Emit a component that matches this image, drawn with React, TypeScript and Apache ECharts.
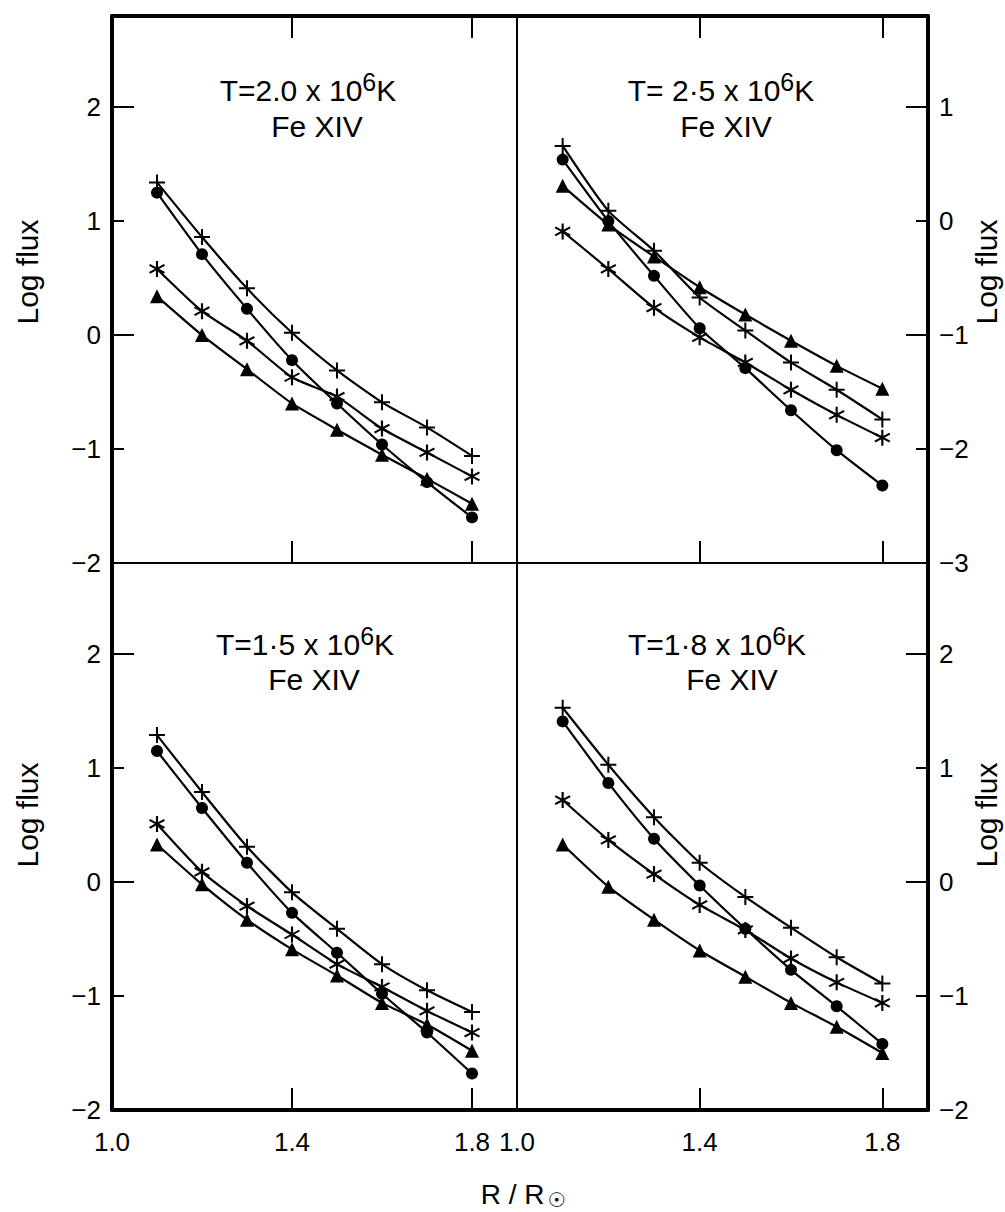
import React, { useEffect, useRef } from "react";
import * as echarts from "echarts";

// ---------- data ----------
const radius = [1.1, 1.2, 1.3, 1.4, 1.5, 1.6, 1.7, 1.8];

// T = 2.0 x 10^6 K (top left)
const t20Plus = [1.34, 0.86, 0.41, 0.02, -0.31, -0.59, -0.81, -1.06];
const t20Circle = [1.25, 0.71, 0.23, -0.22, -0.6, -0.96, -1.29, -1.6];
const t20Star = [0.58, 0.21, -0.05, -0.37, -0.54, -0.82, -1.03, -1.24];
const t20Tri = [0.34, 0.0, -0.3, -0.6, -0.83, -1.05, -1.26, -1.48];

// T = 2.5 x 10^6 K (top right)
const t25Plus = [0.66, 0.09, -0.26, -0.67, -0.96, -1.24, -1.48, -1.74];
const t25Circle = [0.54, 0.0, -0.48, -0.94, -1.29, -1.66, -2.01, -2.32];
const t25Star = [-0.09, -0.42, -0.76, -1.02, -1.24, -1.48, -1.7, -1.9];
const t25Tri = [0.31, -0.03, -0.31, -0.58, -0.82, -1.05, -1.27, -1.47];

// T = 1.5 x 10^6 K (bottom left)
const t15Plus = [1.29, 0.79, 0.31, -0.09, -0.41, -0.72, -0.95, -1.14];
const t15Circle = [1.15, 0.65, 0.17, -0.27, -0.62, -0.98, -1.32, -1.68];
const t15Star = [0.51, 0.09, -0.21, -0.46, -0.72, -0.92, -1.13, -1.32];
const t15Tri = [0.33, -0.02, -0.33, -0.59, -0.82, -1.06, -1.25, -1.48];

// T = 1.8 x 10^6 K (bottom right)
const t18Plus = [1.53, 1.03, 0.57, 0.17, -0.13, -0.4, -0.66, -0.89];
const t18Circle = [1.41, 0.87, 0.38, -0.03, -0.41, -0.77, -1.09, -1.42];
const t18Star = [0.72, 0.37, 0.07, -0.2, -0.42, -0.67, -0.88, -1.06];
const t18Tri = [0.33, -0.04, -0.33, -0.6, -0.83, -1.06, -1.27, -1.5];

// tick labels
const xLabelValues = [1.0, 1.4, 1.8];
const xTickValues = [1.4, 1.8];
const yLabelsMain = [2, 1, 0, -1, -2];
const yLabelsTopRight = [1, 0, -1, -2, -3];

// texts
const titlePrefixes = ["T=2.0 x 10", "T= 2·5 x 10", "T=1·5 x 10", "T=1·8 x 10"];
const titleExponent = "6";
const titleUnit = "K";
const ionName = "Fe XIV";
const yTitle = "Log flux";
const xTitleMain = "R / R";
const xTitleSub = "☉";

// ---------- styling ----------
const FONT = "'Liberation Sans', 'DejaVu Sans', sans-serif";
const INK = "#000";
const PLUS = "path://M7,0L9,0L9,16L7,16Z M0,7L16,7L16,9L0,9Z";
const STAR =
  "path://M7,0L9,0L9,16L7,16Z M0.57,4.87L1.57,3.13L15.43,11.13L14.43,12.87Z M1.57,12.87L0.57,11.13L14.43,3.13L15.43,4.87Z";

const markers = [
  { name: "plus", symbol: PLUS, size: 16 },
  { name: "circle", symbol: "circle", size: 12 },
  { name: "asterisk", symbol: STAR, size: 16 },
  { name: "triangle", symbol: "triangle", size: 14 },
];

const panels = [
  {
    left: 112, top: 16, width: 405, height: 547, yMin: -2, yMax: 2.8, side: "left", row: "top",
    long: [2, 0], short: [1, -1], labels: yLabelsMain,
    t1: [308, 87], t2: [317, 126], yt: [27, 272],
    data: [t20Plus, t20Circle, t20Star, t20Tri], title: titlePrefixes[0],
  },
  {
    left: 517, top: 16, width: 411, height: 547, yMin: -3, yMax: 1.8, side: "right", row: "top",
    long: [1, -1], short: [0, -2], labels: yLabelsTopRight,
    t1: [721, 87], t2: [726, 126], yt: [986, 272],
    data: [t25Plus, t25Circle, t25Star, t25Tri], title: titlePrefixes[1],
  },
  {
    left: 112, top: 563, width: 405, height: 547, yMin: -2, yMax: 2.8, side: "left", row: "bottom",
    long: [2, 0], short: [1, -1], labels: yLabelsMain,
    t1: [305, 641], t2: [314, 679], yt: [27, 815],
    data: [t15Plus, t15Circle, t15Star, t15Tri], title: titlePrefixes[2],
  },
  {
    left: 517, top: 563, width: 411, height: 547, yMin: -2, yMax: 2.8, side: "right", row: "bottom",
    long: [2, 0], short: [1, -1], labels: yLabelsMain,
    t1: [717, 641], t2: [732, 679], yt: [986, 815],
    data: [t18Plus, t18Circle, t18Star, t18Tri], title: titlePrefixes[3],
  },
];

const fmtY = (v: number) => (v < 0 ? "\u2212" + Math.abs(v) : String(Math.abs(v)));
const fmtX = (v: number) => Number(v).toFixed(1);

function buildOption() {
  const grid: any[] = [];
  const xAxis: any[] = [];
  const yAxis: any[] = [];
  const series: any[] = [];
  const graphic: any[] = [];
  const tickLine = { color: INK, width: 2 };

  panels.forEach((p, i) => {
    grid.push({
      left: p.left, top: p.top, width: p.width, height: p.height,
      containLabel: false, outerBoundsMode: "none",
    });
    const isBottom = p.row === "bottom";
    const xi = xAxis.length;
    xAxis.push({
      type: "value", gridIndex: i, position: "bottom", min: 1.0, max: 1.9,
      axisLine: { show: true, onZero: false, lineStyle: { color: INK, width: isBottom ? 4 : 2 } },
      axisTick: { show: true, inside: true, length: 22, customValues: xTickValues, lineStyle: tickLine },
      axisLabel: {
        show: isBottom, customValues: xLabelValues, formatter: fmtX, margin: 19,
        fontSize: 26, fontFamily: FONT, color: INK,
      },
      splitLine: { show: false },
    });
    if (!isBottom) {
      xAxis.push({
        type: "value", gridIndex: i, position: "top", min: 1.0, max: 1.9,
        axisLine: { show: true, onZero: false, lineStyle: { color: INK, width: 4 } },
        axisTick: { show: true, inside: true, length: 22, customValues: xTickValues, lineStyle: tickLine },
        axisLabel: { show: false },
        splitLine: { show: false },
      });
    }
    const yi = yAxis.length;
    yAxis.push({
      type: "value", gridIndex: i, position: p.side, min: p.yMin, max: p.yMax, interval: 1,
      axisLine: { show: true, onZero: false, lineStyle: { color: INK, width: 4 } },
      axisTick: { show: true, inside: true, length: 22, customValues: p.long, lineStyle: tickLine },
      axisLabel: {
        show: true, customValues: p.labels, formatter: fmtY, margin: 11,
        fontSize: 26, fontFamily: FONT, color: INK,
      },
      splitLine: { show: false },
    });
    yAxis.push({
      type: "value", gridIndex: i, position: p.side, min: p.yMin, max: p.yMax, interval: 1,
      axisLine: { show: false, onZero: false },
      axisTick: { show: true, inside: true, length: 12, customValues: p.short, lineStyle: tickLine },
      axisLabel: { show: false },
      splitLine: { show: false },
    });
    if (p.side === "left") {
      yAxis.push({
        type: "value", gridIndex: i, position: "right", min: p.yMin, max: p.yMax, interval: 1,
        axisLine: { show: true, onZero: false, lineStyle: { color: INK, width: 2 } },
        axisTick: { show: false },
        axisLabel: { show: false },
        splitLine: { show: false },
      });
    }

    p.data.forEach((vals, k) => {
      const m = markers[k];
      series.push({
        type: "line",
        name: m.name,
        xAxisIndex: xi,
        yAxisIndex: yi,
        data: radius.map((r, j) => [r, vals[j]]),
        symbol: m.symbol,
        symbolSize: m.size,
        smooth: 0.2,
        lineStyle: { color: INK, width: 2.2 },
        itemStyle: { color: INK },
        z: 3,
      });
    });

    // panel title
    graphic.push({
      type: "text",
      x: p.t1[0],
      y: p.t1[1],
      style: {
        text: `{m|${p.title}}{s|${titleExponent}}{m|${titleUnit}}`,
        rich: {
          m: { fontSize: 30, fontFamily: FONT, fill: INK, lineHeight: 36, verticalAlign: "bottom" },
          s: { fontSize: 25, fontFamily: FONT, fill: INK, lineHeight: 22, verticalAlign: "top" },
        },
        align: "center",
        verticalAlign: "middle",
        textAlign: "center",
        textVerticalAlign: "middle",
      },
    });
    graphic.push({
      type: "text",
      x: p.t2[0],
      y: p.t2[1],
      style: {
        text: ionName,
        font: `30px ${FONT}`,
        fill: INK,
        align: "center",
        verticalAlign: "middle",
        textAlign: "center",
        textVerticalAlign: "middle",
      },
    });
    // y axis title
    graphic.push({
      type: "text",
      x: p.yt[0],
      y: p.yt[1],
      rotation: Math.PI / 2,
      style: {
        text: yTitle,
        font: `30px ${FONT}`,
        fill: INK,
        align: "center",
        verticalAlign: "middle",
        textAlign: "center",
        textVerticalAlign: "middle",
      },
    });
  });

  graphic.push({
    type: "text",
    x: 523,
    y: 1195,
    style: {
      text: `{m|${xTitleMain}}{s|${xTitleSub}}`,
      rich: {
        m: { fontSize: 28, fontFamily: FONT, fill: INK, lineHeight: 30, verticalAlign: "top" },
        s: { fontSize: 20, fontFamily: "'DejaVu Sans', sans-serif", fill: INK, lineHeight: 16, verticalAlign: "bottom", padding: [0, 0, 0, 3] },
      },
      align: "center",
      verticalAlign: "middle",
      textAlign: "center",
      textVerticalAlign: "middle",
    },
  });

  return {
    animation: false,
    backgroundColor: "#ffffff",
    grid,
    xAxis,
    yAxis,
    series,
    graphic,
  };
}

export default function App() {
  const ref = useRef<HTMLDivElement>(null);
  useEffect(() => {
    if (!ref.current) return;
    const chart = echarts.init(ref.current, undefined, { renderer: "svg" });
    chart.setOption(buildOption() as any);
    return () => {
      chart.dispose();
    };
  }, []);
  return (
    <div
      ref={ref}
      style={{ position: "absolute", left: 0, top: 0, width: 1005, height: 1212, background: "#fff" }}
    />
  );
}
